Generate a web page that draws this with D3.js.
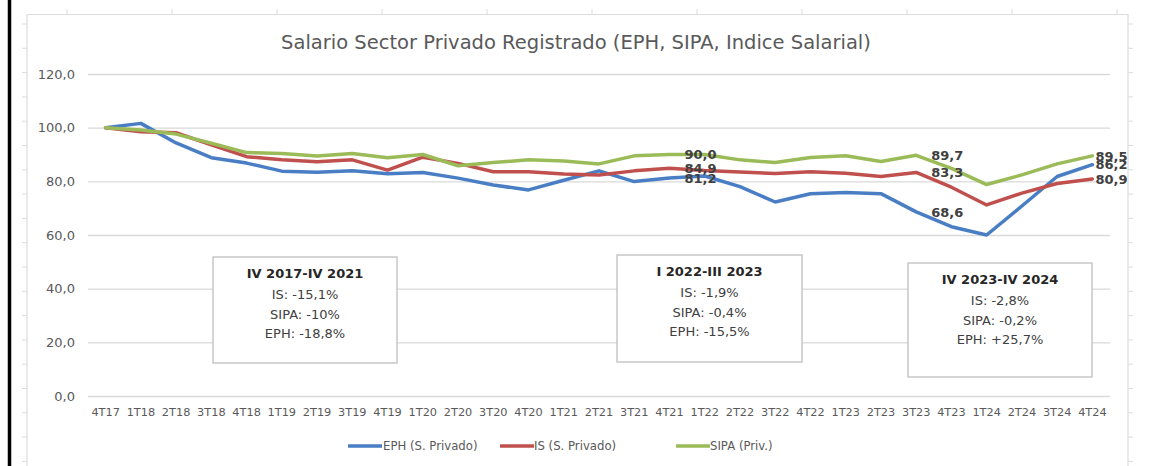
<!DOCTYPE html>
<html>
<head>
<meta charset="utf-8">
<script src="https://cdn.jsdelivr.net/npm/d3@7"></script>
<style>
  html, body { margin: 0; padding: 0; background: #fff; }
  svg { display: block; }
  text { font-family: "DejaVu Sans", sans-serif; }
</style>
</head>
<body>
<svg id="chart" width="1161" height="466"></svg>
<script>
// Quarterly index, 4T17 = 100
const categories = [
  "4T17","1T18","2T18","3T18","4T18","1T19","2T19","3T19","4T19",
  "1T20","2T20","3T20","4T20","1T21","2T21","3T21","4T21",
  "1T22","2T22","3T22","4T22","1T23","2T23","3T23","4T23",
  "1T24","2T24","3T24","4T24"
];
const eph = [100, 101.6, 94.3, 88.8, 86.8, 83.8, 83.4, 83.9, 82.8,
  83.3, 81.2, 78.6, 76.8, 80.4, 83.9, 79.9, 81.2,
  82.0, 78.0, 72.3, 75.4, 75.8, 75.4, 68.6, 63.1,
  60.0, 70.8, 81.8, 86.2];
const isPriv = [100, 98.5, 98.1, 93.6, 89.2, 88.0, 87.3, 88.0, 84.2,
  89.0, 86.7, 83.6, 83.6, 82.7, 82.4, 83.9, 84.9,
  84.0, 83.5, 82.9, 83.6, 83.0, 81.8, 83.3, 77.8,
  71.2, 75.6, 79.2, 80.9];
const sipa = [100, 99.1, 97.6, 94.2, 90.7, 90.4, 89.4, 90.4, 88.8,
  90.0, 85.8, 87.0, 88.0, 87.6, 86.5, 89.5, 90.0,
  90.0, 88.0, 87.0, 88.9, 89.5, 87.4, 89.7, 84.8,
  78.8, 82.4, 86.5, 89.5];
const seriesNames = ["EPH (S. Privado)", "IS (S. Privado)", "SIPA (Priv.)"];
const yTicks = [0, 20, 40, 60, 80, 100, 120];
const labelledQuarters = ["4T21", "3T23", "4T24"];

const boxTitles = ["IV 2017-IV 2021", "I 2022-III 2023", "IV 2023-IV 2024"];
const boxLines = [
  ["IS: -15,1%", "SIPA: -10%", "EPH: -18,8%"],
  ["IS: -1,9%", "SIPA: -0,4%", "EPH: -15,5%"],
  ["IS: -2,8%", "SIPA: -0,2%", "EPH: +25,7%"]
];

const title = "Salario Sector Privado Registrado (EPH, SIPA, Indice Salarial)";

const colors = ["#4a7ec4", "#c0504d", "#9bbb59"];
const seriesValues = [eph, isPriv, sipa];

const svg = d3.select("#chart");
const W = 1161, H = 466;
const plot = { left: 88, right: 1110, top: 74, bottom: 396 };

svg.append("rect").attr("width", W).attr("height", H).attr("fill", "#fff");

// ---- sheet frame ----
const frame = svg.append("g").attr("stroke", "#dcdcdc").attr("fill", "none");
frame.append("path").attr("d", `M27,466 V14.5 H1128 V466`).attr("stroke-width", 1.2);
for (let x = 67; x < 1128; x += 105) {
  frame.append("line").attr("x1", x).attr("x2", x).attr("y1", 9).attr("y2", 14.5);
}
for (let y = 24; y < 466; y += 24.3) {
  frame.append("line").attr("x1", 22).attr("x2", 27).attr("y1", y).attr("y2", y);
  frame.append("line").attr("x1", 1128).attr("x2", 1133).attr("y1", y).attr("y2", y);
}
svg.append("line").attr("x1", 9.5).attr("x2", 9.5).attr("y1", 0).attr("y2", H)
  .attr("stroke", "#000").attr("stroke-width", 3.5);

// ---- scales ----
const x = d3.scaleBand().domain(categories).range([plot.left, plot.right]).padding(0);
const cx = c => x(c) + x.bandwidth() / 2;
const y = d3.scaleLinear().domain([0, 120]).range([plot.bottom, plot.top]);
const fmt = v => d3.format(".1f")(v).replace(".", ",");

// ---- y axis with gridlines ----
const yAxis = d3.axisLeft(y).tickValues(yTicks).tickFormat(fmt)
  .tickSize(-(plot.right - plot.left)).tickPadding(13);
const gy = svg.append("g").attr("transform", `translate(${plot.left},0)`).call(yAxis);
gy.select(".domain").remove();
gy.selectAll(".tick line").attr("stroke", "#d9d9d9").attr("stroke-width", 1.3);
gy.selectAll(".tick text").attr("fill", "#595959").attr("font-size", 13)
  .attr("font-family", "DejaVu Sans, sans-serif");

// ---- x axis ----
const xAxis = d3.axisBottom(x).tickSize(0).tickPadding(12);
const gx = svg.append("g").attr("transform", `translate(0,${plot.bottom})`).call(xAxis);
gx.select(".domain").remove();
gx.selectAll(".tick text").attr("fill", "#595959").attr("font-size", 11.3)
  .attr("font-family", "DejaVu Sans, sans-serif");

// ---- title ----
svg.append("text").attr("x", 576).attr("y", 49).attr("text-anchor", "middle")
  .attr("font-size", 19.5).attr("fill", "#595959").text(title);

// ---- annotation boxes ----
const boxLayout = [
  { x: 213, y: 257, w: 184, h: 106 },
  { x: 617, y: 255, w: 185, h: 107 },
  { x: 908, y: 263, w: 184, h: 114 }
];
boxLayout.forEach((b, i) => {
  const g = svg.append("g");
  g.append("rect").attr("x", b.x).attr("y", b.y).attr("width", b.w).attr("height", b.h)
    .attr("fill", "#fff").attr("stroke", "#bfbfbf").attr("stroke-width", 1.3);
  const mx = b.x + b.w / 2;
  g.append("text").attr("x", mx).attr("y", b.y + 21).attr("text-anchor", "middle")
    .attr("font-size", 13).attr("font-weight", "bold").attr("fill", "#262626")
    .text(boxTitles[i]);
  boxLines[i].forEach((t, j) => {
    g.append("text").attr("x", mx).attr("y", b.y + 42 + j * 19.5).attr("text-anchor", "middle")
      .attr("font-size", 13).attr("fill", "#404040").text(t);
  });
});

// ---- lines ----
const line = d3.line().x((d, i) => cx(categories[i])).y(d => y(d));
seriesValues.forEach((vals, k) => {
  svg.append("path").datum(vals).attr("d", line).attr("fill", "none")
    .attr("stroke", colors[k]).attr("stroke-width", 3.5)
    .attr("stroke-linejoin", "round").attr("stroke-linecap", "round");
});

// ---- value labels ----
labelledQuarters.forEach(q => {
  const i = categories.indexOf(q);
  const last = i === categories.length - 1;
  seriesValues.forEach(vals => {
    svg.append("text").attr("x", cx(q) + (last ? 3 : 15)).attr("y", y(vals[i]))
      .attr("dy", "0.36em").attr("font-size", 13).attr("font-weight", "bold")
      .attr("fill", "#404040").text(fmt(vals[i]));
  });
});

// ---- legend ----
const legendItems = [
  { x: 348, textX: 383 },
  { x: 500, textX: 534 },
  { x: 676, textX: 710 }
];
legendItems.forEach((l, k) => {
  svg.append("line").attr("x1", l.x).attr("x2", l.x + 34).attr("y1", 446).attr("y2", 446)
    .attr("stroke", colors[k]).attr("stroke-width", 3.5);
  svg.append("text").attr("x", l.textX).attr("y", 446).attr("dy", "0.36em")
    .attr("font-size", 11.7).attr("fill", "#595959").text(seriesNames[k]);
});
</script>
</body>
</html>
